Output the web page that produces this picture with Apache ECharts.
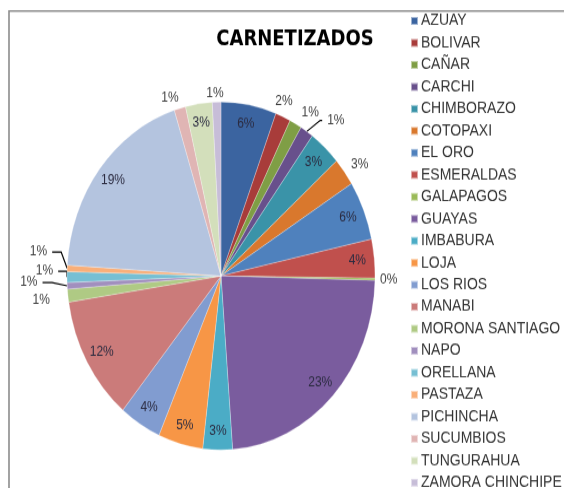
<!DOCTYPE html>
<html>
<head>
<meta charset="utf-8">
<script src="https://cdn.jsdelivr.net/npm/echarts@6/dist/echarts.min.js"></script>
<style>
  html, body { margin: 0; padding: 0; background: #fff; overflow: hidden; }
  #wrap { width: 564px; height: 488px; overflow: hidden; }
  /* the original picture is stretched vertically, so the pie is an oval */
  #main { width: 564px; height: 450px; transform: scaleY(1.1296); transform-origin: 0 0; }
</style>
</head>
<body>
<div id="wrap"><div id="main"></div></div>
<script>
// provinces
var provincias = ['AZUAY', 'BOLIVAR', 'CAÑAR', 'CARCHI', 'CHIMBORAZO', 'COTOPAXI', 'EL ORO',
  'ESMERALDAS', 'GALAPAGOS', 'GUAYAS', 'IMBABURA', 'LOJA', 'LOS RIOS', 'MANABI',
  'MORONA SANTIAGO', 'NAPO', 'ORELLANA', 'PASTAZA', 'PICHINCHA', 'SUCUMBIOS',
  'TUNGURAHUA', 'ZAMORA CHINCHIPE'];
// share of carnetizados (%)
var carnetizados = [5.8, 1.6, 1.3, 1.4, 3.4, 2.6, 5.5, 3.6, 0.2, 23.4, 3.1, 4.7, 4.4, 11.6,
  1.2, 0.6, 1.0, 0.6, 19.1, 1.2, 2.8, 0.9];

var colores = ['#3B64A0', '#A83C3A', '#7F9E45', '#68508C', '#3A93A8', '#D9782D',
  '#4F81BD', '#C0504D', '#9BBB59', '#7A5C9E', '#4BACC6', '#F79646',
  '#819CD0', '#CB7B7A', '#AFCA84', '#A18FBE', '#76BFD3', '#F9AF79',
  '#B4C4DF', '#E0B5B4', '#D3DFBB', '#C7BDD8'];

// labels drawn inside the slices (near the rim), the rest go outside
var dentro = ['AZUAY', 'CHIMBORAZO', 'EL ORO', 'ESMERALDAS', 'GUAYAS', 'IMBABURA', 'LOJA',
  'LOS RIOS', 'MANABI', 'PICHINCHA', 'TUNGURAHUA'];
// outside labels with a leader line
var conLinea = { 'CARCHI': [6, 8], 'GALAPAGOS': [2, 3], 'PASTAZA': [10, 8], 'ORELLANA': [4, 10], 'NAPO': [20, 8] };
// nudges for outside labels (px, before the vertical stretch)
var ajuste = {
  'BOLIVAR': [-17, -11], 'CAÑAR': [-14, -15], 'CARCHI': [-12, -22], 'COTOPAXI': [0, -5],
  'SUCUMBIOS': [26, -15], 'ZAMORA CHINCHIPE': [15, -5],
  'PASTAZA': [-2, -14], 'ORELLANA': [0, -11], 'NAPO': [-3, -15], 'MORONA SANTIAGO': [-15, -13]
};

function pct(p) { return Math.round(p.percent) + '%'; }

var fuera = provincias.map(function (n, i) {
  var item = { name: n, value: carnetizados[i] };
  if (dentro.indexOf(n) >= 0) {
    item.label = { show: false };
  } else if (conLinea[n]) {
    item.labelLine = { show: true, length: conLinea[n][0], length2: conLinea[n][1] };
  }
  return item;
});
var anillo = provincias.map(function (n, i) {
  return { name: n, value: carnetizados[i], label: { show: dentro.indexOf(n) >= 0 } };
});

var myChart = echarts.init(document.getElementById('main'));
var option = {
  color: colores,
  animation: false,
  title: {
    text: 'CARNETIZADOS',
    left: 290,
    top: 20,
    textAlign: 'center',
    textStyle: { fontFamily: 'Liberation Sans Narrow, DejaVu Sans Condensed, Liberation Sans', fontSize: 20, fontWeight: 'bold', color: '#000' }
  },
  legend: {
    orient: 'vertical',
    left: 410,
    top: 11.5,
    height: 440,
    padding: 0,
    itemWidth: 7,
    itemHeight: 7,
    itemGap: 5.47,
    icon: 'rect',
    data: provincias,
    textStyle: { fontFamily: 'Liberation Sans', fontSize: 14, color: '#333', padding: [0, 0, 0, -2] }
  },
  graphic: [
    { type: 'polyline', shape: { points: [[9, 450], [9, 9.7], [564, 9.7]] }, style: { stroke: '#8c8c8c', lineWidth: 1.6, fill: null } }
  ],
  series: [
    {
      name: 'CARNETIZADOS',
      type: 'pie',
      center: [221, 244.3],
      radius: [0, 154],
      startAngle: 90,
      data: fuera,
      itemStyle: { borderColor: 'rgba(255,255,255,0.5)', borderWidth: 0.5 },
      label: {
        show: true,
        position: 'outside',
        formatter: pct,
        fontFamily: 'Liberation Sans',
        fontSize: 12,
        color: '#404040'
      },
      labelLine: { show: false, length: 3, length2: 3, lineStyle: { color: '#000', width: 1.2 } },
      labelLayout: function (params) {
        var d = ajuste[provincias[params.dataIndex]];
        if (!d) return {};
        var out = { dx: d[0], dy: d[1] };
        var pts = params.labelLinePoints;
        if (pts && pts.length === 3) {
          out.labelLinePoints = [
            pts[0],
            [pts[1][0] + d[0] * 0.5, pts[1][1] + d[1]],
            [pts[2][0] + d[0], pts[2][1] + d[1]]
          ];
        }
        return out;
      },
      emphasis: { disabled: true }
    },
    {
      name: 'etiquetas',
      type: 'pie',
      center: [221, 244.3],
      radius: [114, 154],
      startAngle: 90,
      silent: true,
      data: anillo,
      itemStyle: { color: 'transparent' },
      label: {
        position: 'inside',
        formatter: pct,
        fontFamily: 'Liberation Sans',
        fontSize: 12,
        color: '#2b2b40'
      },
      labelLine: { show: false },
      emphasis: { disabled: true }
    }
  ]
};
myChart.setOption(option);
</script>
</body>
</html>
